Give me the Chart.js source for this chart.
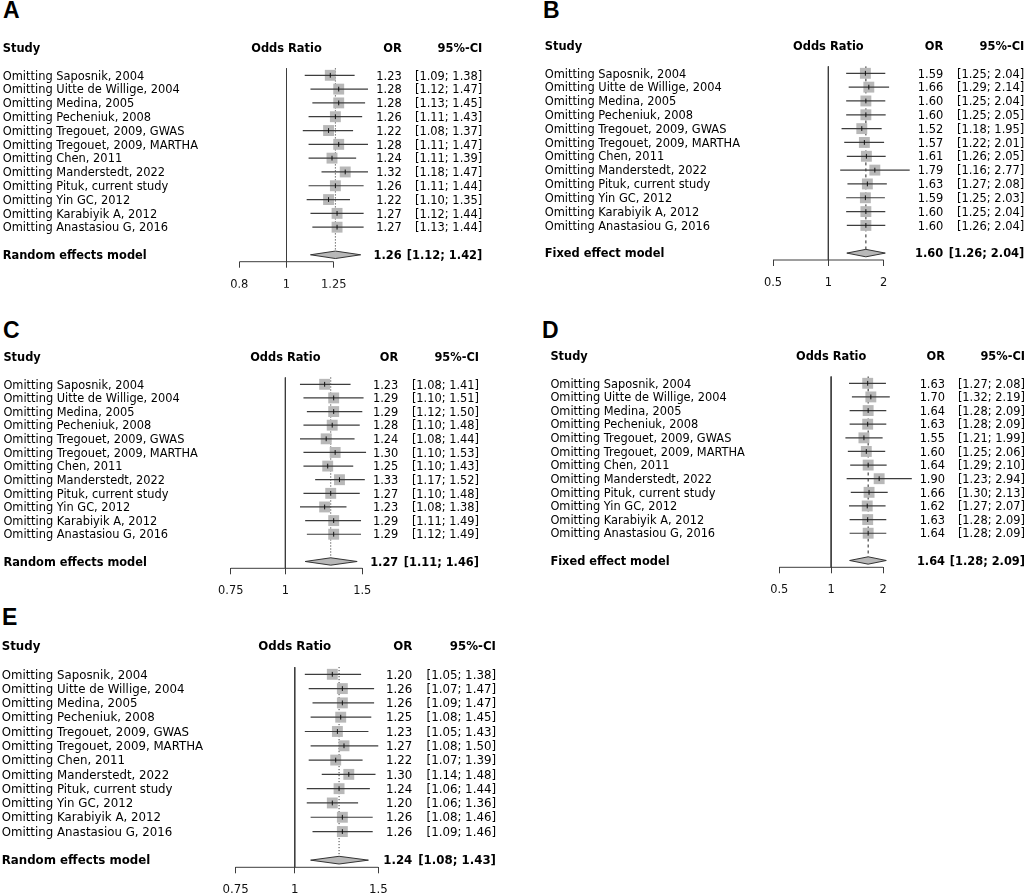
<!DOCTYPE html>
<html>
<head>
<meta charset="utf-8">
<script src="https://cdn.jsdelivr.net/npm/chart.js@4.4.0/dist/chart.umd.min.js"></script>
<style>
  body { margin: 0; background: #fff; width: 1028px; height: 895px; position: relative; overflow: hidden; }
  canvas { position: absolute; }
  .tag { position: absolute; font: bold 23px "Liberation Sans", Arial, sans-serif; line-height: 23px; }
  .t { position: absolute; white-space: nowrap; font-family: "DejaVu Sans", sans-serif; line-height: 1.16; color: #000; }
  .b { font-weight: bold; }
</style>
</head>
<body>
<div class="tag" style="left:3px;top:-1px">A</div>
<div class="tag" style="left:543px;top:-1px">B</div>
<div class="tag" style="left:3px;top:319px">C</div>
<div class="tag" style="left:542px;top:319px">D</div>
<div class="tag" style="left:2px;top:606px">E</div>
<canvas id="cA"></canvas>
<canvas id="cB"></canvas>
<canvas id="cC"></canvas>
<canvas id="cD"></canvas>
<canvas id="cE"></canvas>
<div id="txt"></div>
<script>
var studies = ['Omitting Saposnik, 2004', 'Omitting Uitte de Willige, 2004', 'Omitting Medina, 2005',
  'Omitting Pecheniuk, 2008', 'Omitting Tregouet, 2009, GWAS', 'Omitting Tregouet, 2009, MARTHA',
  'Omitting Chen, 2011', 'Omitting Manderstedt, 2022', 'Omitting Pituk, current study',
  'Omitting Yin GC, 2012', 'Omitting Karabiyik A, 2012', 'Omitting Anastasiou G, 2016'];

// panel A
var orA = [1.23, 1.28, 1.28, 1.26, 1.22, 1.28, 1.24, 1.32, 1.26, 1.22, 1.27, 1.27];
var loA = [1.09, 1.12, 1.13, 1.11, 1.08, 1.11, 1.11, 1.18, 1.11, 1.10, 1.12, 1.13];
var hiA = [1.38, 1.47, 1.45, 1.43, 1.37, 1.47, 1.39, 1.47, 1.44, 1.35, 1.44, 1.44];
var sumA = [1.26, 1.12, 1.42];
var modelA = 'Random effects model';
var ticksA = [0.8, 1, 1.25];

// panel B
var orB = [1.59, 1.66, 1.60, 1.60, 1.52, 1.57, 1.61, 1.79, 1.63, 1.59, 1.60, 1.60];
var loB = [1.25, 1.29, 1.25, 1.25, 1.18, 1.22, 1.26, 1.16, 1.27, 1.25, 1.25, 1.26];
var hiB = [2.04, 2.14, 2.04, 2.05, 1.95, 2.01, 2.05, 2.77, 2.08, 2.03, 2.04, 2.04];
var sumB = [1.60, 1.26, 2.04];
var modelB = 'Fixed effect model';
var ticksB = [0.5, 1, 2];

// panel C
var orC = [1.23, 1.29, 1.29, 1.28, 1.24, 1.30, 1.25, 1.33, 1.27, 1.23, 1.29, 1.29];
var loC = [1.08, 1.10, 1.12, 1.10, 1.08, 1.10, 1.10, 1.17, 1.10, 1.08, 1.11, 1.12];
var hiC = [1.41, 1.51, 1.50, 1.48, 1.44, 1.53, 1.43, 1.52, 1.48, 1.38, 1.49, 1.49];
var sumC = [1.27, 1.11, 1.46];
var modelC = 'Random effects model';
var ticksC = [0.75, 1, 1.5];

// panel D
var orD = [1.63, 1.70, 1.64, 1.63, 1.55, 1.60, 1.64, 1.90, 1.66, 1.62, 1.63, 1.64];
var loD = [1.27, 1.32, 1.28, 1.28, 1.21, 1.25, 1.29, 1.23, 1.30, 1.27, 1.28, 1.28];
var hiD = [2.08, 2.19, 2.09, 2.09, 1.99, 2.06, 2.10, 2.94, 2.13, 2.07, 2.09, 2.09];
var sumD = [1.64, 1.28, 2.09];
var modelD = 'Fixed effect model';
var ticksD = [0.5, 1, 2];

// panel E
var orE = [1.20, 1.26, 1.26, 1.25, 1.23, 1.27, 1.22, 1.30, 1.24, 1.20, 1.26, 1.26];
var loE = [1.05, 1.07, 1.09, 1.08, 1.05, 1.08, 1.07, 1.14, 1.06, 1.06, 1.08, 1.09];
var hiE = [1.38, 1.47, 1.47, 1.45, 1.43, 1.50, 1.39, 1.48, 1.44, 1.36, 1.46, 1.46];
var sumE = [1.24, 1.08, 1.43];
var modelE = 'Random effects model';
var ticksE = [0.75, 1, 1.5];

// where each panel sits on the page
var panels = [
  {id: 'cA', x0: 0, y0: 0, w: 514, h: 300, or: orA, lo: loA, hi: hiA, sum: sumA, model: modelA, ticks: ticksA,
   pxMin: 239.3, pxMax: 333.7, row0: 75.3, axisY: 261.7, fs: 11.45, colL: 2.7, colOR: 401.7, colCI: 482.3, dash: [1, 2]},
  {id: 'cB', x0: 514, y0: 0, w: 514, h: 300, or: orB, lo: loB, hi: hiB, sum: sumB, model: modelB, ticks: ticksB,
   pxMin: 773, pxMax: 883.7, row0: 73.3, axisY: 260, fs: 11.45, colL: 544.7, colOR: 943.3, colCI: 1024.3, dash: [3, 3]},
  {id: 'cC', x0: 0, y0: 300, w: 514, h: 305, or: orC, lo: loC, hi: hiC, sum: sumC, model: modelC, ticks: ticksC,
   pxMin: 229.7, pxMax: 362, row0: 384.3, axisY: 568.3, fs: 11.4, colL: 3.4, colOR: 398.3, colCI: 479, dash: [1, 2]},
  {id: 'cD', x0: 514, y0: 300, w: 514, h: 305, or: orD, lo: loD, hi: hiD, sum: sumD, model: modelD, ticks: ticksD,
   pxMin: 779.3, pxMax: 883, row0: 383.3, axisY: 567.3, fs: 11.4, colL: 550.4, colOR: 945, colCI: 1025, dash: [3, 3]},
  {id: 'cE', x0: 0, y0: 600, w: 514, h: 295, or: orE, lo: loE, hi: hiE, sum: sumE, model: modelE, ticks: ticksE,
   pxMin: 233.3, pxMax: 377.7, row0: 674.3, axisY: 867.3, fs: 11.8, colL: 1.7, colOR: 412.3, colCI: 496, dash: [1, 2]}
];

var AXIS_H = 26;
var PAD_L = 12, PAD_R = 50;   // plot area reaches a bit past the axis ends
var TEXT_DY = 1.2;            // nudge so text sits on the same line as the boxes
var txt = document.getElementById('txt');

function addText(s, x, y, fs, align, bold) {
  var d = document.createElement('div');
  d.className = 't' + (bold ? ' b' : '');
  d.textContent = s;
  d.style.fontSize = fs + 'px';
  d.style.left = x + 'px';
  d.style.top = (y + TEXT_DY) + 'px';
  var tx = align === 'right' ? '-100%' : (align === 'center' ? '-50%' : '0');
  d.style.transform = 'translate(' + tx + ',-50%)';
  txt.appendChild(d);
}

function ci(lo, hi) {
  return '[' + lo.toFixed(2) + '; ' + hi.toFixed(2) + ']';
}

function makePanel(p) {
  var cv = document.getElementById(p.id);
  cv.width = p.w; cv.height = p.h;
  cv.style.left = p.x0 + 'px'; cv.style.top = p.y0 + 'px';
  cv.style.width = p.w + 'px'; cv.style.height = p.h + 'px';

  var tMin = p.ticks[0], tMax = p.ticks[p.ticks.length - 1];
  var k = (p.pxMax - p.pxMin) / Math.log(tMax / tMin);
  var xMin = tMin * Math.exp(-PAD_L / k), xMax = tMax * Math.exp(PAD_R / k);

  var step = (p.axisY - p.row0) / 13.5;
  var areaTop = p.row0 - 3 * step;
  var pts = p.or.map(function (v, i) { return {x: v, y: i}; });
  var s = p.sum;
  var dh = 0.27;

  var datasets = [];
  // little black tick at each estimate
  datasets.push({data: pts, showLine: false, pointStyle: 'line', pointRotation: 90, pointRadius: 2.4,
    pointBorderColor: '#111', pointBorderWidth: 1});
  // confidence intervals
  for (var i = 0; i < p.lo.length; i++) {
    datasets.push({data: [{x: p.lo[i], y: i}, {x: p.hi[i], y: i}], borderColor: '#3d3d3d', borderWidth: 1.2, pointRadius: 0});
  }
  // grey boxes
  datasets.push({data: pts, showLine: false, pointStyle: 'rect', pointRadius: 7.7,
    pointBackgroundColor: '#b8b8b8', pointBorderWidth: 0});
  // summary diamond
  datasets.push({data: [{x: s[1], y: 13}, {x: s[0], y: 13 - dh}, {x: s[2], y: 13}, {x: s[0], y: 13 + dh}, {x: s[1], y: 13}],
    borderColor: '#333', borderWidth: 1, backgroundColor: '#b8b8b8', fill: 'shape', pointRadius: 0});
  // line at pooled estimate
  datasets.push({data: [{x: s[0], y: -0.5}, {x: s[0], y: 13 - dh}], borderColor: '#222', borderWidth: 1,
    borderDash: p.dash, pointRadius: 0});
  // no-effect line
  datasets.push({data: [{x: 1, y: -0.5}, {x: 1, y: 13.5}], borderColor: '#3d3d3d', borderWidth: 1, pointRadius: 0});
  // x axis line between the outer ticks
  datasets.push({data: [{x: tMin, y: 13.5}, {x: tMax, y: 13.5}], borderColor: '#3d3d3d', borderWidth: 1, pointRadius: 0});

  var chart = new Chart(cv, {
    type: 'line',
    data: {datasets: datasets},
    options: {
      responsive: false,
      animation: false,
      events: [],
      layout: {padding: {left: p.pxMin - PAD_L - p.x0, right: p.x0 + p.w - p.pxMax - PAD_R, top: areaTop - p.y0,
        bottom: p.y0 + p.h - p.axisY - AXIS_H}},
      datasets: {line: {clip: false, tension: 0}},
      plugins: {legend: {display: false}, tooltip: {enabled: false}},
      scales: {
        x: {
          type: 'logarithmic', min: xMin, max: xMax,
          afterBuildTicks: function (sc) { sc.ticks = p.ticks.map(function (v) { return {value: v}; }); },
          afterFit: function (sc) { sc.height = AXIS_H; },
          ticks: {callback: function (v) { return String(v); }, autoSkip: false, maxRotation: 0, padding: 10,
            color: '#111', font: {family: 'DejaVu Sans', size: p.fs}},
          grid: {drawOnChartArea: false, drawTicks: true, tickLength: 6, color: '#3d3d3d', lineWidth: 1},
          border: {display: false}
        },
        y: {type: 'linear', display: false, min: -3, max: 13.5, reverse: true}
      }
    }
  });

  var ys = chart.scales.y, xs = chart.scales.x;
  function rowY(r) { return p.y0 + ys.getPixelForValue(r); }
  addText('Study', p.colL, rowY(-2), p.fs, 'left', true);
  addText('Odds Ratio', p.x0 + xs.getPixelForValue(1), rowY(-2), p.fs, 'center', true);
  addText('OR', p.colOR, rowY(-2), p.fs, 'right', true);
  addText('95%-CI', p.colCI, rowY(-2), p.fs, 'right', true);
  studies.forEach(function (name, i) {
    addText(name, p.colL, rowY(i), p.fs, 'left', false);
    addText(p.or[i].toFixed(2), p.colOR, rowY(i), p.fs, 'right', false);
    addText(ci(p.lo[i], p.hi[i]), p.colCI, rowY(i), p.fs, 'right', false);
  });
  addText(p.model, p.colL, rowY(13), p.fs, 'left', true);
  addText(s[0].toFixed(2), p.colOR, rowY(13), p.fs, 'right', true);
  addText(ci(s[1], s[2]), p.colCI, rowY(13), p.fs, 'right', true);
}

panels.forEach(makePanel);
</script>
</body>
</html>
